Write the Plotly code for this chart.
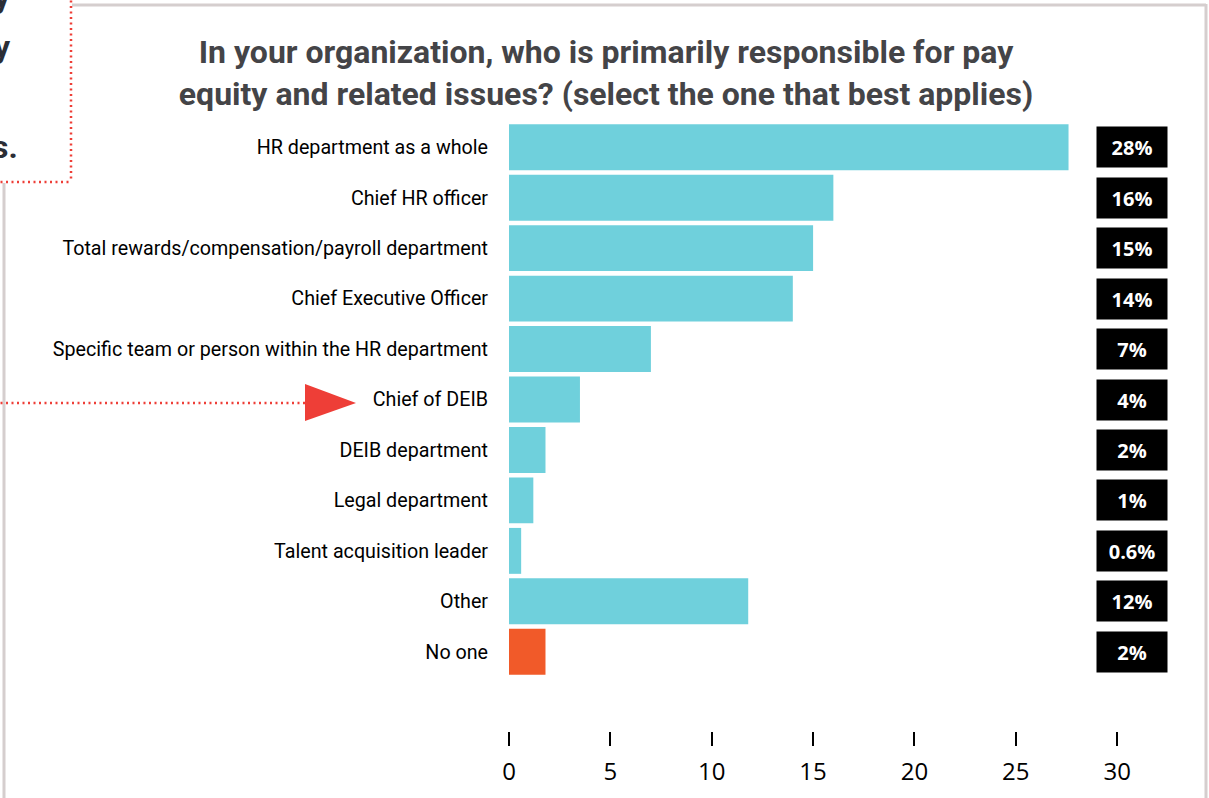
import plotly.graph_objects as go

# Survey responses (% of respondents)
categories = [
    "HR department as a whole",
    "Chief HR officer",
    "Total rewards/compensation/payroll department",
    "Chief Executive Officer",
    "Specific team or person within the HR department",
    "Chief of DEIB",
    "DEIB department",
    "Legal department",
    "Talent acquisition leader",
    "Other",
    "No one",
]
values = [27.6, 16.0, 15.0, 14.0, 7.0, 3.5, 1.8, 1.2, 0.6, 11.8, 1.8]
highlight = [False] * 10 + [True]
x_ticks = [0, 5, 10, 15, 20, 25, 30]

W, H = 1209, 798
ML, MR, MT, MB = 509, 31, 122, 67
PW, PH = W - ML - MR, H - MT - MB
X_RANGE = [0, 33]
Y_RANGE = [11.57, -0.5]

TEAL = "#6fd0dc"
ORANGE = "#f15a29"
RED = "#ee3e37"
FRAME = "#d5cece"


def label_text(v):
    return f"{v:.1f}%" if v < 1 else f"{round(v)}%"


def px(x):
    return (x - ML) / PW


def py(y):
    return (H - MB - y) / PH


ypos = list(range(len(categories)))
colors = [ORANGE if h else TEAL for h in highlight]

fig = go.Figure(
    go.Bar(
        x=values,
        y=ypos,
        orientation="h",
        marker=dict(color=colors, line=dict(width=0)),
        width=0.91,
        hoverinfo="skip",
    )
)

# value badges at the right
for i, v in enumerate(values):
    fig.add_annotation(
        x=px(1132), xref="paper", y=i, yref="y",
        text=label_text(v), showarrow=False,
        font=dict(family="Open Sans", size=20, color="white", weight=700),
        bgcolor="black", width=66, height=36, borderpad=2,
        xanchor="center", yanchor="middle",
    )

shapes = []
# light frame around the chart
shapes.append(dict(type="line", xref="paper", yref="paper",
                   x0=px(72), x1=px(1206), y0=py(5), y1=py(5),
                   line=dict(color=FRAME, width=3)))
shapes.append(dict(type="line", xref="paper", yref="paper",
                   x0=px(1206), x1=px(1206), y0=py(4), y1=py(805),
                   line=dict(color=FRAME, width=3)))
shapes.append(dict(type="line", xref="paper", yref="paper",
                   x0=px(4), x1=px(4), y0=py(183), y1=py(805),
                   line=dict(color=FRAME, width=3)))
# dotted callout box (top left)
shapes.append(dict(type="line", xref="paper", yref="paper",
                   x0=px(71), x1=px(71), y0=py(-5), y1=py(182),
                   line=dict(color=RED, width=2.5, dash="2px,3.5px")))
shapes.append(dict(type="line", xref="paper", yref="paper",
                   x0=px(-5), x1=px(71), y0=py(182), y1=py(182),
                   line=dict(color=RED, width=2.5, dash="2px,3.5px")))
# dotted pointer to Chief of DEIB
shapes.append(dict(type="line", xref="paper", yref="paper",
                   x0=px(-5), x1=px(306), y0=py(403), y1=py(403),
                   line=dict(color=RED, width=2.5, dash="2px,3.5px")))
shapes.append(dict(type="path", xref="paper", yref="paper",
                   path=f"M {px(305)} {py(384)} L {px(356)} {py(403)} L {px(305)} {py(421)} Z",
                   fillcolor=RED, line=dict(width=0)))
fig.update_layout(shapes=shapes)

# callout text (clipped at the page edge)
for txt, yc, xr in [("y", -3, 13), ("y", 47, 13), ("s.", 147, 20)]:
    fig.add_annotation(
        x=px(xr), xref="paper", y=py(yc), yref="paper",
        text=txt, showarrow=False, xanchor="right", yanchor="middle",
        font=dict(family="Roboto", size=32, color="#2b2e36", weight=700),
    )

fig.update_layout(
    width=W, height=H,
    margin=dict(l=ML, r=MR, t=MT, b=MB, pad=0),
    paper_bgcolor="white", plot_bgcolor="white",
    showlegend=False,
    title=dict(
        text="In your organization, who is primarily responsible for pay<br>"
             "equity and related issues? (select the one that best applies)",
        x=606 / W, xref="container", xanchor="center",
        y=1 - 63 / H, yref="container", yanchor="middle",
        font=dict(family="Roboto", size=32, color="#444447", weight=700),
    ),
    xaxis=dict(
        range=X_RANGE, tickvals=x_ticks, ticktext=[str(t) for t in x_ticks],
        showgrid=False, zeroline=False, showline=False,
        ticks="outside", ticklen=14, tickwidth=1.5, tickcolor="black",
        tickfont=dict(family="Open Sans", size=24, color="black"),
        ticklabelstandoff=5,
        fixedrange=True,
    ),
    yaxis=dict(
        range=Y_RANGE, tickvals=ypos, ticktext=categories,
        showgrid=False, zeroline=False, showline=False,
        ticks="outside", ticklen=16, tickcolor="rgba(0,0,0,0)",
        tickfont=dict(family="Roboto", size=19.7, color="black"),
        fixedrange=True,
    ),
    bargap=0.09,
)

fig.write_html("out.html", config={"displayModeBar": False})
